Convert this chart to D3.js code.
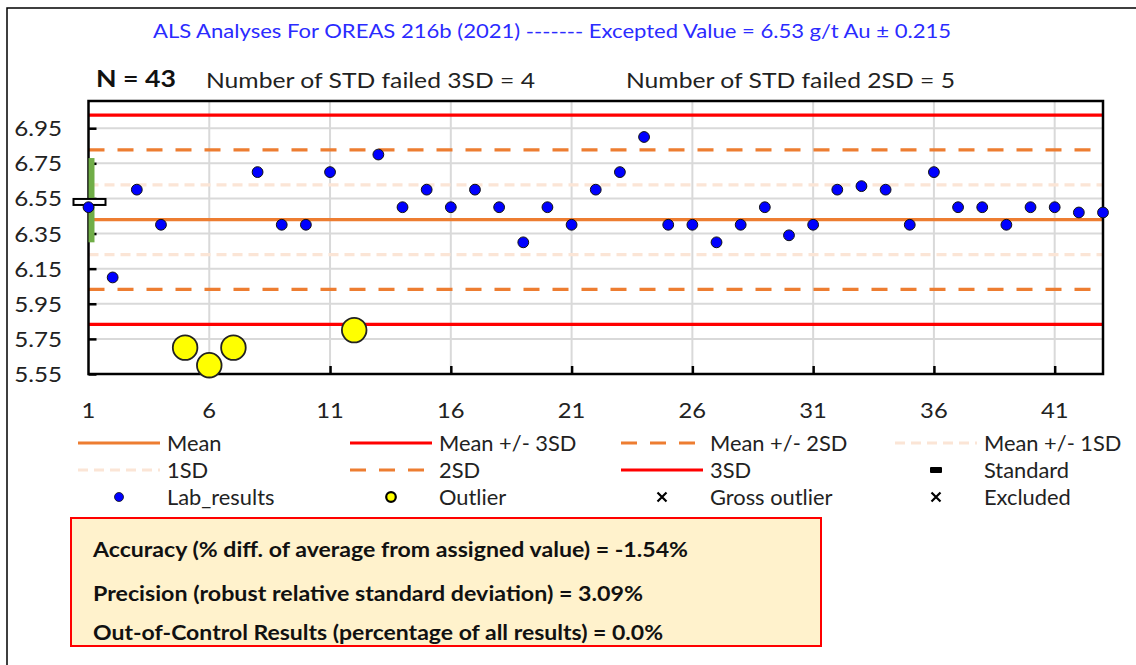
<!DOCTYPE html>
<html><head><meta charset="utf-8">
<script src="https://cdn.jsdelivr.net/npm/d3@7"></script>
<style>
html,body{margin:0;padding:0;background:#fff;}
svg{display:block;font-family:Lato,"Open Sans",sans-serif;}
</style></head>
<body>
<svg id="chart" width="1136" height="665"></svg>
<script>
// ---------- data ----------
const runNumbers = d3.range(1, 44);
const labResults = [6.5,6.1,6.6,6.4,5.7,5.6,5.7,6.7,6.4,6.4,
                    6.7,5.8,6.8,6.5,6.6,6.5,6.6,6.5,6.3,6.5,
                    6.4,6.6,6.7,6.9,6.4,6.4,6.3,6.4,6.5,6.34,
                    6.4,6.6,6.62,6.6,6.4,6.7,6.5,6.5,6.4,6.5,
                    6.5,6.47,6.47];
const outlierRuns = [5,6,7,12];
const xTickLabels = [1,6,11,16,21,26,31,36,41];
const yTickLabels = [5.55,5.75,5.95,6.15,6.35,6.55,6.75,6.95];
const meanValue = 6.429;
const sdValue = 0.1987;
const certifiedValue = 6.53;
const standardRange = [6.30, 6.78];
const sdMultiples = [1,2,3];

const titleText = "ALS Analyses For OREAS 216b (2021) ------- Excepted Value = 6.53 g/t Au \u00b1 0.215";
const nText = "N = 43";
const fail3Text = "Number of STD failed 3SD = 4";
const fail2Text = "Number of STD failed 2SD = 5";
const statsLines = [
  "Accuracy (% diff. of average from assigned value) = -1.54%",
  "Precision (robust relative standard deviation) = 3.09%",
  "Out-of-Control Results (percentage of all results) = 0.0%"
];
const legendItems = [
  {label:"Mean", kind:"mean"},
  {label:"Mean +/- 3SD", kind:"sd3"},
  {label:"Mean +/- 2SD", kind:"sd2"},
  {label:"Mean +/- 1SD", kind:"sd1"},
  {label:"1SD", kind:"sd1"},
  {label:"2SD", kind:"sd2"},
  {label:"3SD", kind:"sd3"},
  {label:"Standard", kind:"std"},
  {label:"Lab_results", kind:"lab"},
  {label:"Outlier", kind:"out"},
  {label:"Gross outlier", kind:"x"},
  {label:"Excluded", kind:"x"}
];

// ---------- styles ----------
const C = {red:"#ff0000", orange:"#ed7d31", light:"#fbe5d6", grid:"#d9d9d9", blue:"#0000ff", yellow:"#ffff00", green:"#70ad47", title:"#2b2bff", text:"#222"};
const lineStyle = {
  mean:{stroke:C.orange, dash:null},
  sd3:{stroke:C.red, dash:null},
  sd2:{stroke:C.orange, dash:"16,13"},
  sd1:{stroke:C.light, dash:"10,6"}
};

// stretch text horizontally (reference glyphs are wide)
function stretch(sel, factor){
  sel.each(function(){
    const w = this.getComputedTextLength();
    d3.select(this).attr("textLength", w*factor).attr("lengthAdjust","spacingAndGlyphs");
  });
}
function fitWidth(sel, w){
  sel.attr("textLength", w).attr("lengthAdjust","spacingAndGlyphs");
}

const svg = d3.select("#chart");
const plot = {left:88.5, right:1103, top:101, bottom:374};

const x = d3.scaleLinear().domain([1,43]).range([plot.left, plot.right]);
const y = d3.scaleLinear().domain([5.55,7.105]).range([plot.bottom, plot.top]);

// outer frame
svg.append("path").attr("d","M7,665 V8 H1136").attr("fill","none").attr("stroke","#000").attr("stroke-width",1.5);

// title texts
fitWidth(svg.append("text").attr("x",153).attr("y",38)
  .attr("font-size",19.5).attr("fill",C.title).text(titleText), 798);
fitWidth(svg.append("text").attr("x",96).attr("y",87).attr("font-size",22.5).attr("font-weight","bold").attr("fill","#111").text(nText), 80);
fitWidth(svg.append("text").attr("x",206).attr("y",88).attr("font-size",21).attr("fill",C.text).text(fail3Text), 329);
fitWidth(svg.append("text").attr("x",626).attr("y",88).attr("font-size",21).attr("fill",C.text).text(fail2Text), 329);

// gridlines
const g = svg.append("g");
g.selectAll(".hg").data(yTickLabels).join("line")
  .attr("x1",plot.left).attr("x2",plot.right)
  .attr("y1",d=>y(d)).attr("y2",d=>y(d))
  .attr("stroke",C.grid).attr("stroke-width",2);
g.selectAll(".vg").data(xTickLabels.slice(1)).join("line")
  .attr("x1",d=>x(d)).attr("x2",d=>x(d))
  .attr("y1",plot.top).attr("y2",plot.bottom)
  .attr("stroke",C.grid).attr("stroke-width",2);

// control lines
const ctrl = [];
sdMultiples.forEach(k=>{
  ctrl.push({v:meanValue + k*sdValue, kind:"sd"+k});
  ctrl.push({v:meanValue - k*sdValue, kind:"sd"+k});
});
ctrl.push({v:meanValue, kind:"mean"});
const order = {sd1:0, sd2:1, mean:2, sd3:3};
ctrl.sort((a,b)=>order[a.kind]-order[b.kind]);
g.selectAll(".cl").data(ctrl).join("line")
  .attr("x1",plot.left).attr("x2",plot.right)
  .attr("y1",d=>y(d.v)).attr("y2",d=>y(d.v))
  .attr("stroke",d=>lineStyle[d.kind].stroke)
  .attr("stroke-width",3.2)
  .attr("stroke-dasharray",d=>lineStyle[d.kind].dash);

// plot frame
svg.append("rect").attr("x",plot.left).attr("y",plot.top)
  .attr("width",plot.right-plot.left).attr("height",plot.bottom-plot.top)
  .attr("fill","none").attr("stroke","#000").attr("stroke-width",2.5);

// axes ticks (inward)
const yAxis = d3.axisRight(y).tickValues(yTickLabels).tickSize(8).tickFormat("");
svg.append("g").attr("transform",`translate(${plot.left},0)`).call(yAxis)
  .call(s=>s.select(".domain").remove())
  .selectAll("line").attr("stroke","#000").attr("stroke-width",2.5);
const xAxis = d3.axisTop(x).tickValues(xTickLabels.slice(1)).tickSize(8).tickFormat("");
svg.append("g").attr("transform",`translate(0,${plot.bottom})`).call(xAxis)
  .call(s=>s.select(".domain").remove())
  .selectAll("line").attr("stroke","#000").attr("stroke-width",2.5);

// tick labels
stretch(svg.selectAll(".yl").data(yTickLabels).join("text")
  .attr("x",62).attr("y",d=>y(d)+8).attr("text-anchor","end")
  .attr("font-size",22).attr("fill",C.text).text(d=>d.toFixed(2)), 1.1);
stretch(svg.selectAll(".xl").data(xTickLabels).join("text")
  .attr("x",d=>x(d)).attr("y",418).attr("text-anchor","middle")
  .attr("font-size",22).attr("fill",C.text).text(d=>d), 1.08);

// standard error bar & marker
svg.append("line").attr("x1",x(1)+3).attr("x2",x(1)+3)
  .attr("y1",y(standardRange[0])).attr("y2",y(standardRange[1]))
  .attr("stroke",C.green).attr("stroke-width",6);
svg.append("rect").attr("x",x(1)-15).attr("y",y(certifiedValue)-3)
  .attr("width",32).attr("height",6).attr("fill","#fff").attr("stroke","#000").attr("stroke-width",2);

// points
const pts = runNumbers.map((r,i)=>({run:r, v:labResults[i], out:outlierRuns.includes(r)}));
svg.selectAll(".lab").data(pts.filter(d=>!d.out)).join("circle")
  .attr("cx",d=>x(d.run)).attr("cy",d=>y(d.v)).attr("r",5.4)
  .attr("fill",C.blue).attr("stroke","#111").attr("stroke-width",1);
svg.selectAll(".out").data(pts.filter(d=>d.out)).join("circle")
  .attr("cx",d=>x(d.run)).attr("cy",d=>y(d.v)).attr("r",12.3)
  .attr("fill",C.yellow).attr("stroke","#222").attr("stroke-width",1.8);

// legend
const colSample = [78, 350, 621, 895];
const colLabel = [167, 439, 710, 984];
const rowY = [443, 470, 497];
const lg = svg.append("g");
legendItems.forEach((it,i)=>{
  const c = i%4, r = Math.floor(i/4);
  const sx = colSample[c], cy = rowY[r], cx = sx+41;
  if (lineStyle[it.kind]) {
    lg.append("line").attr("x1",sx).attr("x2",sx+82).attr("y1",cy).attr("y2",cy)
      .attr("stroke",lineStyle[it.kind].stroke).attr("stroke-width",3.2)
      .attr("stroke-dasharray",lineStyle[it.kind].dash);
  } else if (it.kind==="std") {
    lg.append("rect").attr("x",cx-6).attr("y",cy-3).attr("width",12).attr("height",6).attr("rx",1).attr("fill","#000");
  } else if (it.kind==="lab") {
    lg.append("circle").attr("cx",cx).attr("cy",cy).attr("r",4.5).attr("fill",C.blue).attr("stroke","#111").attr("stroke-width",0.8);
  } else if (it.kind==="out") {
    lg.append("circle").attr("cx",cx).attr("cy",cy).attr("r",4.8).attr("fill",C.yellow).attr("stroke","#000").attr("stroke-width",2.2);
  } else if (it.kind==="x") {
    lg.append("path").attr("d",`M${cx-4.5},${cy-4.5}L${cx+4.5},${cy+4.5}M${cx+4.5},${cy-4.5}L${cx-4.5},${cy+4.5}`)
      .attr("stroke","#000").attr("stroke-width",2.2);
  }
  stretch(lg.append("text").attr("x",colLabel[c]).attr("y",cy+7.5).attr("font-size",21).attr("fill",C.text).text(it.label), 1.04);
});

// stats box
const statsWidths = [595, 550, 570];
svg.append("rect").attr("x",71).attr("y",518).attr("width",750).attr("height",128)
  .attr("fill","#fff2cc").attr("stroke",C.red).attr("stroke-width",2);
svg.selectAll(".st").data(statsLines).join("text")
  .attr("x",93).attr("y",(d,i)=>[557,601,640][i])
  .attr("font-size",20).attr("font-weight","bold").attr("fill","#111").text(d=>d)
  .attr("textLength",(d,i)=>statsWidths[i]).attr("lengthAdjust","spacingAndGlyphs");
</script>
</body></html>
